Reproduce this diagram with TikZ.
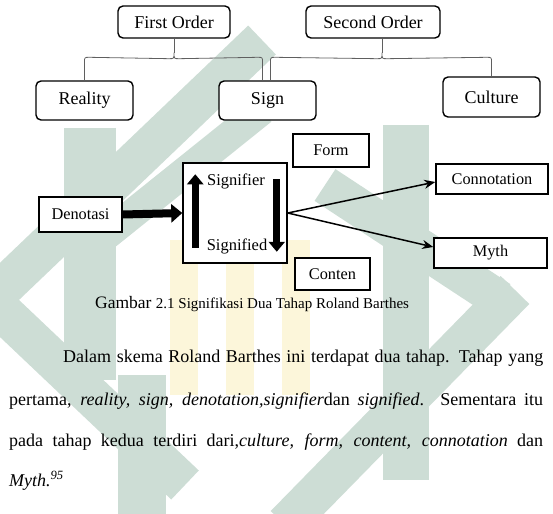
\documentclass[tikz,border=0pt]{standalone}
\usepackage{fontspec}
\setmainfont{Liberation Serif}
\usetikzlibrary{arrows.meta,calc}
\definecolor{wm}{RGB}{205,221,213}
\definecolor{wmy}{RGB}{252,246,218}
\definecolor{bracegray}{RGB}{95,95,95}
\tikzset{
 rbox/.style={draw, rounded corners=5pt, line width=1.4pt, fill=white, inner sep=0pt, font=\fontsize{18}{20}\selectfont},
 sbox/.style={draw, line width=1.5pt, fill=white, inner sep=0pt, font=\fontsize{16.3}{18}\selectfont},
 bline/.style={draw=bracegray, line width=0.8pt},
 fatarrow/.style={line width=8pt, -{Triangle[width=18pt,length=11pt]}},
 vertarrow/.style={line width=7pt, -{Triangle[width=16pt,length=10pt]}},
 thinarrow/.style={line width=1.5pt, -{Stealth[length=11pt,width=9pt]}},
 wmband/.style={draw=wm, line cap=butt, line join=miter},
 para/.style={anchor=base west, inner sep=0pt, font=\fontsize{18}{20}\selectfont}
}
\begin{document}
\begin{tikzpicture}[x=1pt,y=-1pt]
\useasboundingbox (0,0) rectangle (553,513);
% watermark (approximate)
\begin{scope}
\clip (0,0) rectangle (553,513);
\draw[wmband, line width=40pt] (262,40) -- (-10,300);
\draw[wmband, line width=40pt] (-10,300) -- (185,485);
\draw[wmband, line width=30pt] (262,110) -- (100,240);
\draw[wmband, line width=52pt] (90,128) -- (90,380);
\draw[wmband, line width=46pt] (406,125) -- (406,480);
\draw[wmband, line width=38pt] (325,185) -- (500,300);
\draw[wmband, line width=40pt] (515,290) -- (285,525);
\draw[wmband, line width=48pt] (142,375) -- (142,520);
\fill[wmy] (170,240) rectangle (198,395);
\fill[wmy] (226,225) rectangle (254,395);
\fill[wmy] (282,240) rectangle (310,395);
\end{scope}
% top level
\node[rbox, minimum width=112pt, minimum height=32pt] (first) at (174,22) {First Order};
\node[rbox, minimum width=134pt, minimum height=32pt] (second) at (373,22) {Second Order};
\node[rbox, minimum width=97pt, minimum height=39pt] (reality) at (84.5,100.5) {Reality};
\node[rbox, minimum width=97pt, minimum height=39pt] (sign) at (267.5,100.5) {Sign};
\node[rbox, minimum width=97pt, minimum height=40pt] (culture) at (491.5,97) {Culture};
% braces
\coordinate (b1l) at (reality.north);
\coordinate (b1r) at ($(sign.north)+(-5,0)$);
\coordinate (b1t) at (first.south);
\draw[bline] (b1l) -- ($(b1l)+(0,-18)$) .. controls ($(b1l)+(0,-23)$) .. ($(b1l)+(5,-23)$)
  -- ($(b1t)+(-5,20)$) .. controls ($(b1t)+(0,20)$) .. ($(b1t)+(0,14)$)
  .. controls ($(b1t)+(0,20)$) .. ($(b1t)+(5,20)$)
  -- ($(b1r)+(-5,-23)$) .. controls ($(b1r)+(0,-23)$) .. ($(b1r)+(0,-18)$) -- (b1r);
\draw[bline] (b1t) -- ($(b1t)+(0,14)$);
\coordinate (b2l) at ($(sign.north)+(3,0)$);
\coordinate (b2r) at (culture.north);
\coordinate (b2t) at ($(second.south)+(9,0)$);
\draw[bline] (b2l) -- ($(b2l)+(0,-18)$) .. controls ($(b2l)+(0,-23)$) .. ($(b2l)+(5,-23)$)
  -- ($(b2t)+(-5,20)$) .. controls ($(b2t)+(0,20)$) .. ($(b2t)+(0,14)$)
  .. controls ($(b2t)+(0,20)$) .. ($(b2t)+(5,20)$)
  -- ($(b2r)+(-5,-19)$) .. controls ($(b2r)+(0,-19)$) .. ($(b2r)+(0,-14)$) -- (b2r);
\draw[bline] (b2t) -- ($(b2t)+(0,14)$);
% lower diagram
\node[sbox, minimum width=83pt, minimum height=35pt] (deno) at (80.5,214.5) {Denotasi};
\node[sbox, minimum width=104pt, minimum height=100pt] (big) at (235,213) {};
\node[sbox, minimum width=76pt, minimum height=33pt] (form) at (331,150.5) {Form};
\node[sbox, minimum width=75pt, minimum height=32pt] (conten) at (332.5,274) {Conten};
\node[sbox, minimum width=112pt, minimum height=30pt] (conn) at (492,179) {Connotation};
\node[sbox, minimum width=113pt, minimum height=30pt] (myth) at (490.5,253) {\raisebox{-3pt}{Myth}};
\node[inner sep=0pt, font=\fontsize{16.5}{18}\selectfont] (sfr) at (236,181) {Signifier};
\node[inner sep=0pt, font=\fontsize{16.5}{18}\selectfont] (sfd) at (237,246) {Signified};
\coordinate (ua) at ($(big.south west)+(13,-16)$);
\coordinate (ub) at ($(big.north west)+(13,12)$);
\coordinate (da) at ($(big.north east)+(-11,17)$);
\coordinate (db) at ($(big.south east)+(-11,-12)$);
\draw[vertarrow] (ua) -- (ub);
\draw[vertarrow] (da) -- (db);
\draw[fatarrow] (deno.east) -- (big.west);
\draw[thinarrow] (big.east) -- ($(conn.west)+(0,3)$);
\draw[thinarrow] (big.east) -- ($(myth.west)+(0,-6)$);
% caption
\node[anchor=base west, inner sep=0pt] (cap) at (95,308) {\fontsize{17.5}{20}\selectfont Gambar \fontsize{15}{18}\selectfont 2.1 Signifikasi Dua Tahap Roland Barthes};
% paragraph
\node[para] (l1) at (63,362) {\makebox[480pt][s]{Dalam skema Roland Barthes ini terdapat dua tahap. Tahap yang}};
\node[para] (l2) at (9,405) {\makebox[534pt][s]{pertama, \textit{reality, sign, denotation,signifier}dan \textit{signified}. Sementara itu}};
\node[para] (l3) at (9,446) {\makebox[534pt][s]{pada tahap kedua terdiri dari,\textit{culture, form, content, connotation} dan}};
\node[para] (l4) at (9,486) {\textit{Myth.}\textsuperscript{\textit{95}}};
\end{tikzpicture}
\end{document}
